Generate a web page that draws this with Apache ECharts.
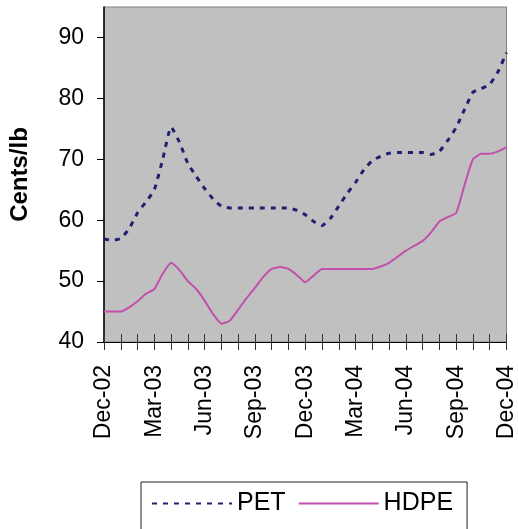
<!DOCTYPE html>
<html>
<head>
<meta charset="utf-8">
<script src="https://cdn.jsdelivr.net/npm/echarts@6/dist/echarts.min.js"></script>
<style>
html,body{margin:0;padding:0;background:#fff;}
#chart{width:518px;height:529px;}
</style>
</head>
<body>
<div id="chart"></div>
<script>
var categories = [
  '2002-12-01','2002-12-16','2003-01-01','2003-01-16','2003-02-01','2003-02-16',
  '2003-03-01','2003-03-16','2003-04-01','2003-04-16','2003-05-01','2003-05-16',
  '2003-06-01','2003-06-16','2003-07-01','2003-07-16','2003-08-01','2003-08-16',
  '2003-09-01','2003-09-16','2003-10-01','2003-10-16','2003-11-01','2003-11-16',
  '2003-12-01','2003-12-16','2004-01-01','2004-01-16','2004-02-01','2004-02-16',
  '2004-03-01','2004-03-16','2004-04-01','2004-04-16','2004-05-01','2004-05-16',
  '2004-06-01','2004-06-16','2004-07-01','2004-07-16','2004-08-01','2004-08-16',
  '2004-09-01','2004-09-16','2004-10-01','2004-10-16','2004-11-01','2004-11-16',
  '2004-12-01'
];
var petValues = [
  56.9, 56.7, 57.0, 58.6, 61.2, 63.0, 65.0, 70.0, 75.3, 72.8,
  69.3, 67.2, 65.2, 63.5, 62.3, 62.0, 62.0, 62.0, 62.0, 62.0,
  62.0, 62.0, 62.0, 61.6, 60.9, 59.8, 59.1, 60.3, 62.3, 64.4,
  66.2, 68.3, 69.8, 70.5, 71.0, 71.1, 71.1, 71.1, 71.1, 70.8,
  71.3, 73.1, 75.2, 78.2, 81.0, 81.6, 82.3, 84.4, 87.5
];
var hdpeValues = [
  45.0, 45.0, 45.0, 45.7, 46.7, 47.9, 48.7, 51.2, 53.0, 51.8,
  50.0, 48.7, 46.8, 44.6, 43.0, 43.5, 45.3, 47.2, 48.9, 50.7,
  52.0, 52.3, 52.0, 51.0, 49.8, 50.9, 52.0, 52.0, 52.0, 52.0,
  52.0, 52.0, 52.0, 52.4, 53.0, 54.0, 55.0, 55.8, 56.6, 58.0,
  59.8, 60.5, 61.2, 65.8, 70.0, 70.9, 70.9, 71.3, 72.0
];
var yTicks = [40, 50, 60, 70, 80, 90];
var seriesNames = ['PET', 'HDPE'];
var yAxisTitle = 'Cents/lb';
var monthNames = ['Jan','Feb','Mar','Apr','May','Jun','Jul','Aug','Sep','Oct','Nov','Dec'];

function fmtDate(s) {
  var p = s.split('-');
  return monthNames[parseInt(p[1], 10) - 1] + '-' + p[0].slice(2);
}

var FONT = '"Liberation Sans", Arial, sans-serif';
var chart = echarts.init(document.getElementById('chart'), null, {renderer: 'canvas'});
chart.setOption({
  animation: false,
  backgroundColor: '#ffffff',
  textStyle: {fontFamily: FONT},
  grid: {
    left: 98, top: 7, right: 11, bottom: 187,
    show: true, backgroundColor: '#c0c0c0', borderColor: '#808080', borderWidth: 1
  },
  legend: {
    left: 141, top: 482,
    padding: [9, 14, 40, 10],
    borderColor: '#222', borderWidth: 1, backgroundColor: '#fff',
    itemWidth: 80, itemHeight: 14, itemGap: 12,
    itemStyle: {opacity: 0},
    textStyle: {fontSize: 25, color: '#000', fontFamily: FONT, lineHeight: 25},
    data: seriesNames
  },
  xAxis: [{
    type: 'category',
    data: categories,
    boundaryGap: false,
    position: 'bottom',
    axisLine: {show: true, lineStyle: {color: '#000', width: 1}},
    axisTick: {show: true, interval: 1, length: 8, lineStyle: {color: '#333'}},
    axisLabel: {
      interval: 5, rotate: 90, margin: 23, fontSize: 23, color: '#000', fontFamily: FONT,
      formatter: function (v) { return fmtDate(v); }
    },
    splitLine: {show: false}
  }, {
    type: 'category',
    data: categories,
    boundaryGap: false,
    position: 'bottom',
    axisLine: {show: false},
    axisTick: {show: true, inside: true, interval: 1, length: 8, lineStyle: {color: '#333'}},
    axisLabel: {show: false},
    splitLine: {show: false}
  }],
  yAxis: {
    type: 'value',
    min: 40, max: 95, interval: 10,
    name: yAxisTitle,
    nameLocation: 'middle',
    nameRotate: 90,
    nameGap: 72,
    nameTextStyle: {fontSize: 24, fontWeight: 'bold', color: '#000', fontFamily: FONT},
    axisLine: {show: true, lineStyle: {color: '#000', width: 1.5}},
    axisTick: {show: true, length: 7, customValues: yTicks, lineStyle: {color: '#000'}},
    axisLabel: {fontSize: 23, color: '#000', margin: 20, customValues: yTicks, fontFamily: FONT},
    splitLine: {show: false}
  },
  series: [{
    name: seriesNames[0],
    type: 'line',
    data: petValues,
    xAxisIndex: 0,
    symbol: 'none',
    smooth: 0.15,
    color: '#202070',
    lineStyle: {color: '#202070', width: 3, type: [5, 6]}
  }, {
    name: seriesNames[1],
    type: 'line',
    data: hdpeValues,
    xAxisIndex: 0,
    symbol: 'none',
    smooth: 0.15,
    color: '#c24fab',
    lineStyle: {color: '#c24fab', width: 2}
  }]
});
</script>
</body>
</html>
